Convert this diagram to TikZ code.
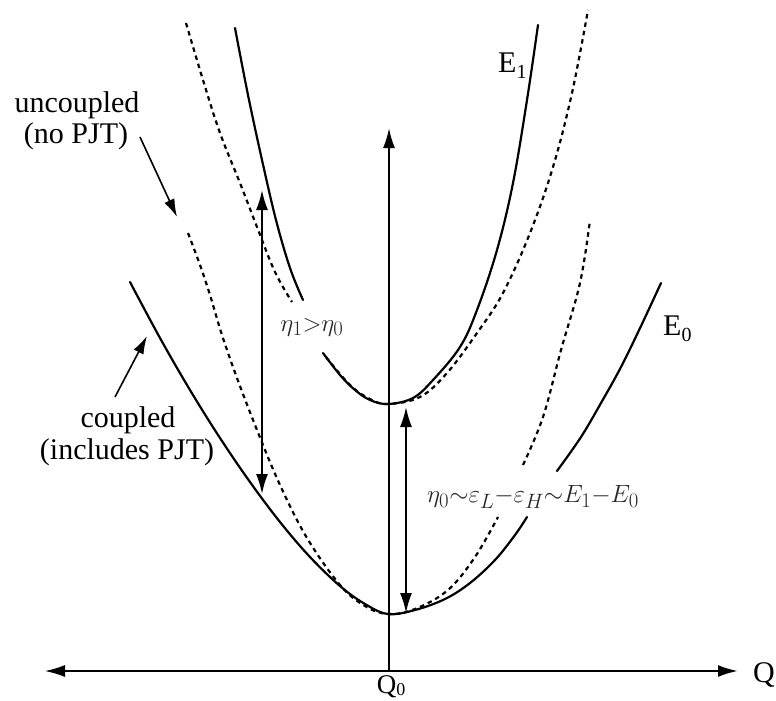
\documentclass[tikz,border=0pt]{standalone}
\usepackage{fontspec}
\setmainfont{Liberation Serif}
\usetikzlibrary{arrows.meta}
\newcommand\lowsub[1]{\raisebox{-0.22em}{\fontsize{20}{20}\selectfont #1}}
\newcommand\lowsubb[1]{\raisebox{-0.1em}{\fontsize{18}{18}\selectfont #1}}
\begin{document}
\begin{tikzpicture}[x=1pt,y=-1pt,
  curve/.style={line width=2.2pt, line join=round, line cap=round},
  dcurve/.style={line width=2.2pt, dash pattern=on 4.5pt off 4pt},
  tip/.style={-{Latex[length=20pt,width=12pt]}},
  darr/.style={line width=1.9pt, {Latex[length=20pt,width=12pt]}-{Latex[length=20pt,width=12pt]}},
  lbl/.style={font=\fontsize{30}{31}\selectfont, inner sep=0pt},
  mlbl/.style={font=\fontsize{29}{29}\selectfont, inner sep=0pt, text=black!85}
]
\useasboundingbox (0,0) rectangle (776,701);

% axes
\coordinate (O) at (389,671);
\coordinate (xl) at (45,671);
\coordinate (xr) at (738,671);
\coordinate (yt) at (389,128);
\draw[line width=1.4pt, tip] (O) -- (xl);
\draw[line width=2.4pt, tip] (O) -- (xr);
\draw[line width=2.1pt, tip] (O) -- (yt);

% E0 coupled (solid)
\draw[curve] plot[smooth, tension=0.6] coordinates {(130,282) (160,338) (190,390) (220,438) (250,482) (280,522) (310,557) (340,586) (365,604) (388,614) (415,610) (445,599) (470,583) (495,560) (515,535) (527,517)};
\draw[curve] plot[smooth, tension=0.6] coordinates {(557,471) (581,437) (601,403) (621,367) (641,326) (661,283)};

% E0 uncoupled (dashed)
\draw[dcurve] plot[smooth, tension=0.6] coordinates {(188,233) (200,265) (210,295) (222,335) (237,378) (257,430) (280,485) (307,538) (340,585) (365,606) (388,614) (415,609) (448,590) (475,557) (498,517)};
\draw[dcurve] plot[smooth, tension=0.6] coordinates {(523,465) (543,417) (561,350) (580,283) (590,220)};

% E1 coupled (solid)
\draw[curve] plot[smooth, tension=0.6] coordinates {(235,28) (248,95) (262,160) (276,220) (290,268) (303,300)};
\draw[curve] plot[smooth, tension=0.6] coordinates {(323,353) (340,375) (355,390) (370,400) (388,404) (413,398) (433,380) (460,347) (477,310) (497,250) (513,183) (527,100) (538,25)};

% E1 uncoupled (dashed)
\draw[dcurve] plot[smooth, tension=0.6] coordinates {(186,23) (203,80) (220,133) (240,183) (257,227) (275,272) (292,302)};
\draw[dcurve] plot[smooth, tension=0.6] coordinates {(326,357) (350,385) (370,399) (388,404) (420,397) (447,373) (477,333) (503,293) (530,233) (553,167) (572,93) (588,10)};

% double arrows
\coordinate (a1t) at (262,190);
\coordinate (a1b) at (262,494);
\coordinate (a0t) at (406,407);
\coordinate (a0b) at (406,613);
\draw[darr] (a1t) -- (a1b);
\draw[darr] (a0t) -- (a0b);

% pointer arrows
\coordinate (ut) at (140,137);
\coordinate (uh) at (177,217);
\coordinate (ct) at (115,397);
\coordinate (ch) at (147,336);
\draw[line width=1.6pt, -{Latex[length=18pt,width=11pt]}] (ut) -- (uh);
\draw[line width=1.6pt, -{Latex[length=18pt,width=11pt]}] (ct) -- (ch);

% labels
\node[lbl, anchor=base] (unc1) at (77,112) {uncoupled};
\node[lbl, anchor=base] (unc2) at (76,143) {(no PJT)};
\node[lbl, anchor=base] (cpl1) at (128,427) {coupled};
\node[lbl, anchor=base] (cpl2) at (127,459) {(includes PJT)};
\node[lbl, anchor=base west] (e1) at (498,72) {E\lowsub{1}};
\node[lbl, anchor=base west] (e0) at (663,335) {E\lowsub{0}};
\node[inner sep=0pt, font=\fontsize{27}{27}\selectfont, anchor=base] (q0) at (391,693) {Q\lowsubb{0}};
\node[lbl, anchor=base west] (q) at (753,682) {Q};
\node[mlbl] (eta1) at (312,327) {$\eta_1{>}\eta_0$};
\node[mlbl] (eta0) at (533,497) {$\eta_0{\sim}\varepsilon_L{-}\varepsilon_H{\sim}E_1{-}E_0$};
\end{tikzpicture}
\end{document}
